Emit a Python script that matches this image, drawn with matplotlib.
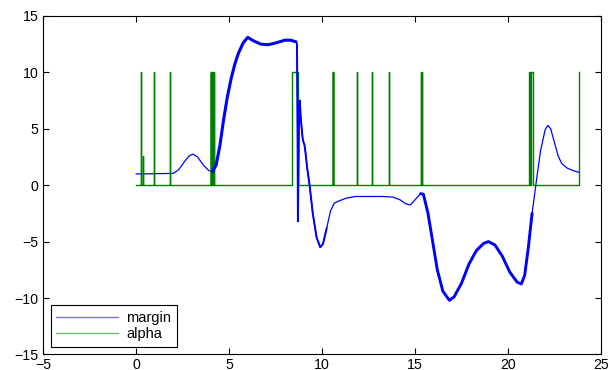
import numpy as np
import matplotlib
matplotlib.use("Agg")
import matplotlib.pyplot as plt

plt.rcParams['font.family'] = ['Liberation Sans', 'DejaVu Sans']

# margin series (x, value)
margin_x = [0.0, 0.5, 1.0, 1.5, 2.0, 2.3, 2.6, 2.85, 3.05, 3.3, 3.6, 3.9, 4.1, 4.3, 4.5,
            4.7, 4.9, 5.1, 5.3, 5.5, 5.75, 6.0, 6.3, 6.7, 7.1, 7.5, 8.0, 8.3, 8.6, 8.65,
            8.68, 8.7, 8.72, 8.76, 8.8, 8.85, 8.95, 9.0, 9.05, 9.1, 9.2, 9.32, 9.5, 9.7,
            9.9, 10.05, 10.25, 10.45, 10.65, 10.9, 11.3, 11.8, 12.5, 13.2, 13.8, 14.2,
            14.5, 14.75, 15.0, 15.3, 15.45, 15.7, 15.95, 16.2, 16.5, 16.85, 17.1, 17.5,
            17.9, 18.3, 18.7, 18.95, 19.3, 19.7, 20.1, 20.5, 20.72, 20.9, 21.1, 21.3,
            21.5, 21.75, 22.0, 22.15, 22.3, 22.5, 22.7, 22.9, 23.2, 23.5, 23.8]
margin_y = [1.0, 1.0, 1.02, 1.03, 1.05, 1.4, 2.1, 2.6, 2.75, 2.5, 1.8, 1.3, 1.2, 1.8, 3.5,
            5.8, 7.8, 9.4, 10.7, 11.7, 12.6, 13.1, 12.8, 12.5, 12.45, 12.6, 12.85, 12.85, 12.7, 12.5,
            5.0, -3.2, 0.0, 6.5, 7.5, 6.0, 4.2, 3.8, 3.6, 3.0, 1.5, 0.1, -2.5, -4.6,
            -5.5, -5.2, -3.8, -2.3, -1.6, -1.4, -1.15, -1.0, -1.0, -1.0, -1.05, -1.3,
            -1.65, -1.75, -1.3, -0.75, -0.8, -2.5, -5.0, -7.5, -9.4, -10.2, -9.9, -8.7,
            -7.0, -5.8, -5.15, -5.0, -5.3, -6.3, -7.7, -8.6, -8.75, -8.0, -5.5, -2.5,
            0.0, 3.0, 4.9, 5.3, 5.0, 3.8, 2.6, 1.9, 1.5, 1.3, 1.15]

# alpha: intervals where alpha is non-zero (start, end, level)
alpha_start = [0.23, 0.38, 0.98, 1.84, 4.0, 4.04, 4.08, 4.12, 4.16, 8.37, 10.57, 10.61,
               11.86, 12.7, 13.6, 15.34, 15.38, 21.15, 21.24, 23.82]
alpha_end = [0.23, 0.38, 0.98, 1.84, 4.0, 4.04, 4.08, 4.12, 4.16, 8.69, 10.57, 10.61,
             11.86, 12.7, 13.6, 15.34, 15.38, 21.19, 21.36, 23.82]
alpha_level = [10, 2.6, 10, 10, 10, 10, 10, 10, 10, 10, 10, 10,
               10, 10, 10, 10, 10, 10, 10, 10]
alpha_x0, alpha_x1 = 0.0, 23.82

# stretches of margin drawn heavier (range, linewidth)
heavy_ranges = [(4.1, 8.62, 2.2), (8.65, 10.3, 1.4), (15.2, 21.3, 2.1)]

ax_x = [alpha_x0]
ax_y = [0]
for s, e, h in zip(alpha_start, alpha_end, alpha_level):
    ax_x += [s, s, e, e]
    ax_y += [0, h, h, 0]
if ax_x[-1] < alpha_x1:
    ax_x.append(alpha_x1); ax_y.append(0)
else:
    ax_x, ax_y = ax_x[:-1], ax_y[:-1]

fig = plt.figure(figsize=(6.1, 3.7), dpi=100)
ax = fig.add_axes([0.071, 0.042, 0.914, 0.915])

mx = np.array(margin_x)
my = np.array(margin_y)
ax.plot(mx, my, color=(0, 0, 1), lw=0.9, label='margin')
ax.plot(ax_x, ax_y, color=(0, 0.5, 0), lw=1.0, label='alpha')
for a, b, w in heavy_ranges:
    m = (mx >= a) & (mx <= b)
    ax.plot(mx[m], my[m], color=(0, 0, 1), lw=w, solid_capstyle='round',
            solid_joinstyle='round')

ax.set_xlim(-5, 25)
ax.set_ylim(-15, 15)
ax.set_xticks([-5, 0, 5, 10, 15, 20, 25])
ax.set_yticks([-15, -10, -5, 0, 5, 10, 15])
ax.tick_params(direction='in', top=True, right=True, length=4, labelsize=10.2)
ax.tick_params(axis='x', pad=2.2)
ax.tick_params(axis='y', pad=3.5)
for s in ax.spines.values():
    s.set_linewidth(0.8)

h1, = ax.plot([], [], color=(0.45, 0.45, 1), lw=1.0)
h2, = ax.plot([], [], color=(0.45, 0.75, 0.45), lw=1.0)
leg = ax.legend([h1, h2], ['margin', 'alpha'], loc='lower left', fontsize=10.5,
                fancybox=False, edgecolor='black', framealpha=1,
                borderaxespad=0.5, handlelength=4.2, handletextpad=0.6,
                labelspacing=0.15, borderpad=0.4)
leg.get_frame().set_linewidth(0.8)

fig.savefig('out.png', dpi=100)
